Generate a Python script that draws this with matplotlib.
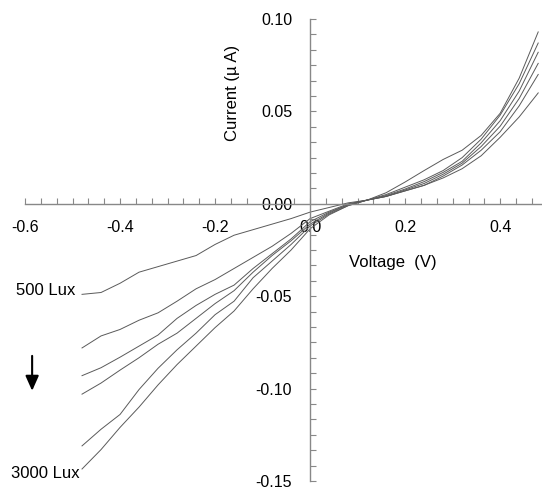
import matplotlib
matplotlib.use("Agg")
import matplotlib.pyplot as plt
from matplotlib.ticker import MultipleLocator

plt.rcParams['font.family'] = ['Liberation Sans', 'DejaVu Sans']

voltage = [-0.48, -0.44, -0.40, -0.36, -0.32, -0.28, -0.24, -0.20, -0.16, -0.12,
           -0.08, -0.04, 0.00, 0.04, 0.08, 0.12, 0.16, 0.20, 0.24, 0.28,
           0.32, 0.36, 0.40, 0.44, 0.48]

# current in uA, one list per illumination level (500 Lux ... 3000 Lux)
lux_500 = [-0.049, -0.048, -0.043, -0.037, -0.034, -0.031, -0.028, -0.022, -0.017, -0.014,
           -0.011, -0.008, -0.0045, -0.002, 0.0005, 0.002, 0.004, 0.007, 0.010, 0.014,
           0.019, 0.026, 0.036, 0.047, 0.060]
lux_1000 = [-0.078, -0.0715, -0.068, -0.063, -0.059, -0.0527, -0.046, -0.041, -0.035, -0.029,
            -0.023, -0.016, -0.008, -0.004, 0.000, 0.002, 0.004, 0.007, 0.010, 0.015,
            0.021, 0.029, 0.039, 0.053, 0.070]
lux_1500 = [-0.093, -0.0887, -0.083, -0.077, -0.071, -0.062, -0.055, -0.049, -0.044, -0.035,
            -0.027, -0.019, -0.0097, -0.0045, -0.0005, 0.002, 0.004, 0.0075, 0.011, 0.016,
            0.022, 0.031, 0.042, 0.057, 0.076]
lux_2000 = [-0.103, -0.097, -0.090, -0.0833, -0.076, -0.070, -0.062, -0.054, -0.047, -0.037,
            -0.028, -0.020, -0.011, -0.005, -0.0005, 0.002, 0.0045, 0.008, 0.012, 0.017,
            0.023, 0.033, 0.045, 0.061, 0.082]
lux_2500 = [-0.131, -0.122, -0.114, -0.1005, -0.089, -0.079, -0.070, -0.060, -0.0527, -0.040,
            -0.031, -0.022, -0.012, -0.0055, -0.001, 0.002, 0.005, 0.009, 0.013, 0.018,
            0.025, 0.035, 0.048, 0.065, 0.087]
lux_3000 = [-0.1435, -0.133, -0.121, -0.110, -0.098, -0.087, -0.077, -0.067, -0.058, -0.046,
            -0.035, -0.025, -0.0135, -0.006, -0.001, 0.002, 0.006, 0.0118, 0.018, 0.024,
            0.029, 0.037, 0.049, 0.068, 0.093]

curves = [lux_500, lux_1000, lux_1500, lux_2000, lux_2500, lux_3000]

fig = plt.figure(figsize=(5.42, 4.91), dpi=100)
ax = fig.add_axes([25 / 542, 10 / 491, 517 / 542, 462 / 491])

for cur in curves:
    ax.plot(voltage, cur, color="#5a5a5a", linewidth=0.7)

ax.set_xlim(-0.6, 0.488)
ax.set_ylim(-0.15, 0.10)

ax.spines['left'].set_position(('data', 0))
ax.spines['bottom'].set_position(('data', 0))
ax.spines['right'].set_visible(False)
ax.spines['top'].set_visible(False)
for s in ['left', 'bottom']:
    ax.spines[s].set_color("#888888")
    ax.spines[s].set_linewidth(1.0)

ax.set_xticks([-0.6, -0.4, -0.2, 0.0, 0.2, 0.4])
ax.set_yticks([-0.15, -0.10, -0.05, 0.00, 0.05, 0.10])
ax.xaxis.set_minor_locator(MultipleLocator(0.2 / 6))
ax.yaxis.set_minor_locator(MultipleLocator(0.05 / 6))
ax.set_xticklabels(["-0.6", "-0.4", "-0.2", "0.0", "0.2", "0.4"])
ax.set_yticklabels(["-0.15", "-0.10", "-0.05", "0.00", "0.05", "0.10"])

ax.tick_params(axis='both', which='both', direction='in', length=4, width=0.8,
               color="#888888", labelsize=11.5)
ax.tick_params(axis='x', which='major', pad=12)
ax.tick_params(axis='y', which='major', pad=13)
# the 0.00 label sits on the x axis line, blank the line behind it
ax.get_yticklabels()[3].set_bbox(dict(facecolor='white', edgecolor='none', pad=0.5))

ax.text(0.175, -0.032, "Voltage  (V)", fontsize=12, ha='center', va='center')
ax.text(-0.164, 0.060, "Current (\u00b5 A)", fontsize=12, ha='center', va='center',
        rotation=90)

ax.text(-0.493, -0.0468, "500 Lux", fontsize=12, ha='right', va='center')
ax.text(-0.484, -0.146, "3000 Lux", fontsize=12, ha='right', va='center')
ax.annotate("", xy=(-0.585, -0.1012), xytext=(-0.585, -0.0823),
            arrowprops=dict(arrowstyle="-|>,head_length=0.9,head_width=0.4",
                            color="black", linewidth=1.5, shrinkA=0, shrinkB=0))

fig.savefig("out.png", dpi=100)
